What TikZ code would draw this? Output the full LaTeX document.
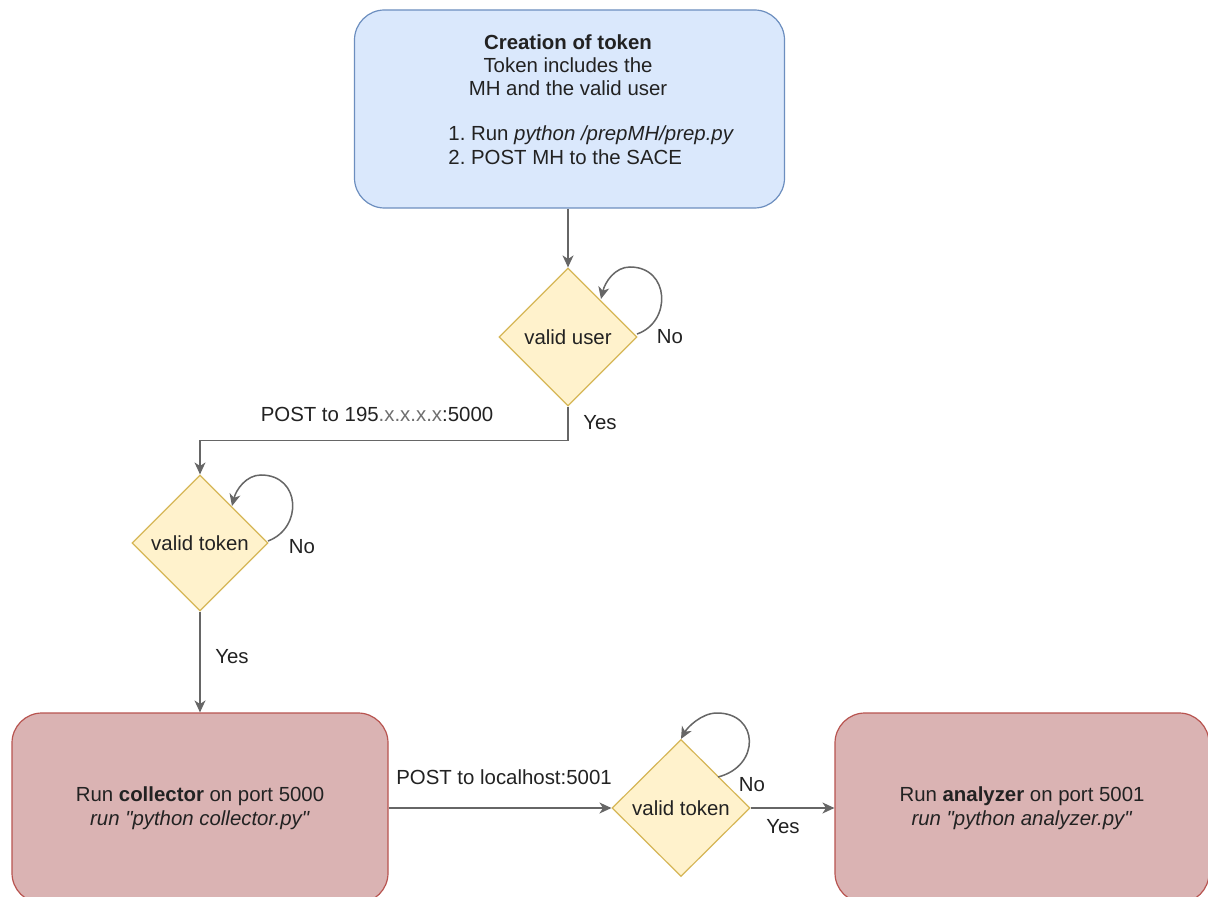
\documentclass[tikz,border=0pt]{standalone}
\usepackage{fontspec}
\setmainfont{Liberation Sans}[Ligatures=TeXOff]
\usetikzlibrary{shapes.geometric,arrows.meta,calc}

\definecolor{blueFill}{HTML}{DAE8FC}
\definecolor{blueLine}{HTML}{6C8EBF}
\definecolor{yelFill}{HTML}{FFF2CC}
\definecolor{yelLine}{HTML}{D6B656}
\definecolor{redFill}{RGB}{218,179,179}
\definecolor{redLine}{HTML}{B85450}
\definecolor{edgeGray}{HTML}{666666}
\definecolor{txt}{HTML}{222222}

\frenchspacing
\begin{document}
\begin{tikzpicture}[x=0.5pt,y=-0.5pt,
  font=\fontsize{10.2}{12}\selectfont, text=txt,
  startbox/.style={draw=blueLine, fill=blueFill, line width=0.6pt,
    rounded corners=15pt, minimum width=215pt, minimum height=99pt, inner sep=0pt},
  procbox/.style={draw=redLine, fill=redFill, line width=0.6pt,
    rounded corners=15pt, minimum width=188pt, minimum height=95pt,
    align=center, inner sep=0pt},
  decision/.style={diamond, draw=yelLine, fill=yelFill, line width=0.6pt,
    inner sep=0pt, minimum width=69pt, minimum height=69pt},
  flow/.style={draw=edgeGray, line width=0.75pt,
    -{Stealth[length=6pt,width=5.5pt,inset=1.8pt]}},
  lbl/.style={inner sep=1pt}
]
% canvas
\useasboundingbox (0,0) rectangle (1208,897);
\fill[white] (0,0) rectangle (1208,897);

\begin{scope}
\clip (0,0) rectangle (1208,897);

% token creation step
\node[startbox] (create) at (569.5,109) {};
\node[align=center, font=\fontsize{10.2}{11.5}\selectfont] (head) at (568,65)
  {\textbf{Creation of token}\\Token includes the\\MH and the valid user};
\node[anchor=west, align=left, inner sep=0pt] (steps) at (448,145)
  {1. Run \textit{python /prepMH/prep.py}\\2. POST MH to the SACE};

% decisions
\node[decision] (user) at (568,337) {valid user};
\node[decision, minimum width=68pt, minimum height=68pt] (tok1) at (200,543) {valid token};
\node[decision, minimum height=68.5pt] (tok2) at (681,808) {valid token};

% services
\node[procbox] (coll) at (200,808)
  {Run \textbf{collector} on port 5000\\\textit{run "python collector.py"}};
\node[procbox, minimum width=187pt] (ana) at (1022,808)
  {Run \textbf{analyzer} on port 5001\\\textit{run "python analyzer.py"}};

% main flow
\draw[flow] (create.south -| user.north) -- (user.north);
\draw[flow] (user.south) -- ++(0,34) -| (tok1.north);
\draw[flow] (tok1.south) -- (coll.north);
\draw[flow] (coll.east) -- (tok2.west);
\draw[flow] (tok2.east) -- (ana.west);

% retry loops
\draw[flow] ([shift={(69,-3)}]user.center)
  .. controls ([shift={(104,-15)}]user.center) and ([shift={(102,-70)}]user.center)
  .. ([shift={(62,-70)}]user.center)
  .. controls ([shift={(47,-70)}]user.center) and ([shift={(37,-55)}]user.center)
  .. ([shift={(33,-38)}]user.center);
\draw[flow] ([shift={(68,-2)}]tok1.center)
  .. controls ([shift={(103,-15)}]tok1.center) and ([shift={(101,-68)}]tok1.center)
  .. ([shift={(61,-68)}]tok1.center)
  .. controls ([shift={(46,-68)}]tok1.center) and ([shift={(36,-53)}]tok1.center)
  .. ([shift={(32,-37)}]tok1.center);
\draw[flow] ([shift={(37,-31)}]tok2.center)
  .. controls ([shift={(80,-42)}]tok2.center) and ([shift={(78,-95)}]tok2.center)
  .. ([shift={(36,-95)}]tok2.center)
  .. controls ([shift={(20,-95)}]tok2.center) and ([shift={(6,-80)}]tok2.center)
  .. (tok2.north);

% edge labels
\node[lbl] (noUser) at (670,337) {No};
\node[lbl] (yesUser) at (600,423) {Yes};
\node[lbl] (post1) at (377,414) {POST to 195\textcolor{txt!65}{.x.x.x.x}:5000};
\node[lbl] (noTok1) at (302,547) {No};
\node[lbl] (yesTok1) at (232,657) {Yes};
\node[lbl] (post2) at (504,777) {POST to localhost:5001};
\node[lbl] (noTok2) at (752,785) {No};
\node[lbl] (yesTok2) at (783,827) {Yes};
\end{scope}
\end{tikzpicture}
\end{document}
